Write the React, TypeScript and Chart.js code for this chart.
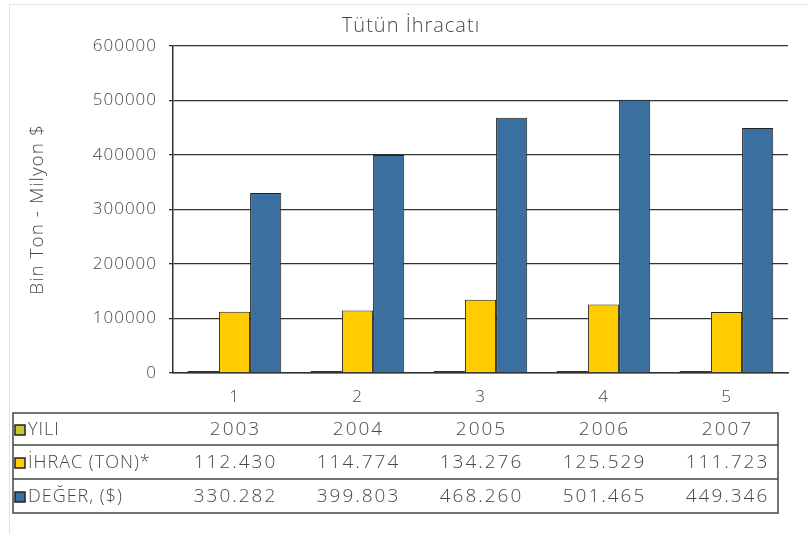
import React, { useEffect, useRef } from "react";
import { Chart, registerables } from "chart.js";

Chart.register(...registerables);

const categories = ["1", "2", "3", "4", "5"];
const years = [2003, 2004, 2005, 2006, 2007];
const exportTon = [112430, 114774, 134276, 125529, 111723];
const valueUsd = [330282, 399803, 468260, 501465, 449346];
const seriesNames = ["YILI", "İHRAC (TON)*", "DEĞER, ($)"];
const seriesColors = ["#c8c832", "#ffcc00", "#3b6f9f"];
const titleText = "Tütün İhracatı";
const yTitle = "Bin Ton - Milyon $";

const FONT = "'Open Sans', 'Noto Sans', sans-serif";
const TEXT = "#484848";
const LINE = "#333333";

function fmtDot(v: number): string {
  const s = String(v);
  return s.replace(/\B(?=(\d{3})+(?!\d))/g, ".");
}

const spacingPlugin = {
  id: "spacing",
  beforeDraw(chart: any) {
    chart.ctx.letterSpacing = "1px";
  },
};

const tablePlugin = {
  id: "dataTable",
  afterDraw(chart: any) {
    const ctx = chart.ctx as CanvasRenderingContext2D;
    const x = chart.scales.x;
    const left = 13;
    const right = 778;
    const rows = [413, 445, 479, 513];
    ctx.save();
    ctx.strokeStyle = "#444444";
    ctx.lineWidth = 1.5;
    ctx.strokeRect(left, rows[0], right - left, rows[3] - rows[0]);
    ctx.beginPath();
    ctx.moveTo(left, rows[1]);
    ctx.lineTo(right, rows[1]);
    ctx.moveTo(left, rows[2]);
    ctx.lineTo(right, rows[2]);
    ctx.stroke();

    const rowValues = [
      years.map((v) => String(v)),
      exportTon.map(fmtDot),
      valueUsd.map(fmtDot),
    ];
    for (let r = 0; r < 3; r++) {
      const cy = (rows[r] + rows[r + 1]) / 2 + 1;
      ctx.fillStyle = seriesColors[r];
      ctx.fillRect(15, cy - 5, 10, 10);
      ctx.strokeStyle = "#222222";
      ctx.lineWidth = 1.5;
      ctx.strokeRect(15, cy - 5, 10, 10);
      ctx.fillStyle = TEXT;
      ctx.font = `300 18px ${FONT}`;
      (ctx as any).letterSpacing = "1px";
      ctx.textBaseline = "middle";
      ctx.textAlign = "left";
      ctx.fillText(seriesNames[r], 28, cy);
      ctx.font = `300 19px ${FONT}`;
      (ctx as any).letterSpacing = "2px";
      ctx.textAlign = "center";
      for (let i = 0; i < categories.length; i++) {
        const px = x.getPixelForValue(i);
        ctx.fillText(rowValues[r][i], px + 1, cy);
      }
    }
    ctx.restore();
  },
};

export default function App() {
  const canvasRef = useRef<HTMLCanvasElement | null>(null);

  useEffect(() => {
    if (!canvasRef.current) return;
    const chart = new Chart(canvasRef.current, {
      type: "bar",
      data: {
        labels: categories,
        datasets: [
          {
            label: seriesNames[0],
            data: years,
            backgroundColor: "#333333",
            borderColor: "#222222",
            borderWidth: 0,
            minBarLength: 2,
          },
          {
            label: seriesNames[1],
            data: exportTon,
            backgroundColor: seriesColors[1],
            borderColor: "#222222",
            borderWidth: 1,
          },
          {
            label: seriesNames[2],
            data: valueUsd,
            backgroundColor: seriesColors[2],
            borderColor: "#222222",
            borderWidth: 1,
          },
        ],
      },
      options: {
        responsive: false,
        animation: false,
        layout: { padding: { left: 34, right: 19, top: 0, bottom: 0 } },
        datasets: {
          bar: { categoryPercentage: 0.76, barPercentage: 1 },
        },
        plugins: {
          legend: { display: false },
          tooltip: { enabled: false },
          title: {
            display: true,
            text: titleText,
            color: TEXT,
            font: { family: FONT, size: 20, weight: "300" },
            padding: { top: 14, bottom: 8 },
          },
        },
        scales: {
          x: {
            grid: { display: false },
            border: { display: true, color: LINE, width: 1.5 },
            ticks: {
              color: TEXT,
              font: { family: FONT, size: 17, weight: "300" },
              padding: 6,
            },
            afterFit(scale: any) {
              scale.height = 161;
            },
          },
          y: {
            min: 0,
            max: 600000,
            ticks: {
              stepSize: 100000,
              color: TEXT,
              font: { family: FONT, size: 17, weight: "300" },
              padding: 12,
              callback: (v: any) => String(v),
            },
            grid: {
              color: LINE,
              lineWidth: 1.3,
              tickLength: 4,
            },
            border: { display: true, color: LINE, width: 1.5 },
            title: {
              display: true,
              text: yTitle,
              color: TEXT,
              font: { family: FONT, size: 19, weight: "300" },
              padding: { top: -8, bottom: 0 },
            },
            afterFit(scale: any) {
              scale.width = 139;
            },
          },
        },
      },
      plugins: [spacingPlugin, tablePlugin],
    } as any);
    return () => chart.destroy();
  }, []);

  return (
    <div
      style={{
        position: "fixed",
        left: 0,
        top: 0,
        width: 807,
        height: 534,
        background: "#ffffff",
      }}
    >
      <div
        style={{
          position: "absolute",
          left: 9,
          top: 4,
          right: 0,
          bottom: 0,
          borderTop: "1px solid #e2e2e2",
          borderLeft: "1px solid #e2e2e2",
        }}
      />
      <canvas
        ref={canvasRef}
        width={807}
        height={534}
        style={{ position: "absolute", left: 0, top: 0, display: "block" }}
      />
    </div>
  );
}
